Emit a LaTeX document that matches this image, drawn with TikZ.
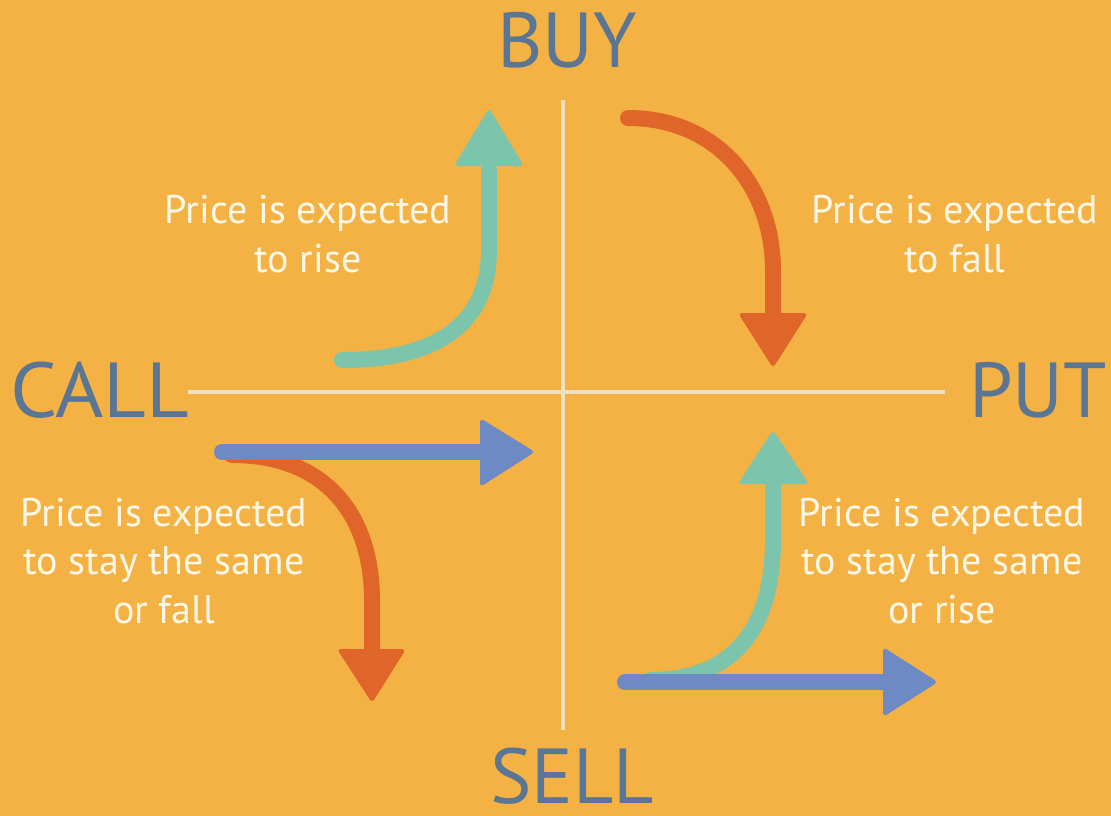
\documentclass[tikz,border=0pt]{standalone}
\usepackage{fontspec}
\setmainfont{PT Sans}
\definecolor{bgc}{HTML}{F3B243}
\definecolor{labc}{HTML}{5A7694}
\definecolor{tealc}{HTML}{7DC4AC}
\definecolor{orangec}{HTML}{E0652A}
\definecolor{bluec}{HTML}{6E8AC4}
\definecolor{txtc}{HTML}{FFF8E8}
\definecolor{axisc}{HTML}{EFE0C0}
\tikzset{
  bigl/.style={inner sep=0pt, text=labc, font=\fontsize{78}{80}\selectfont},
  desc/.style={inner sep=0pt, text=txtc, align=center, font=\fontsize{40}{48.5}\selectfont},
  axisline/.style={draw=axisc, line width=4pt},
  shaft/.style={line width=16pt, line cap=round},
  headtri/.style={rounded corners=4pt}
}
\begin{document}
\begin{tikzpicture}[x=1pt,y=-1pt]
\fill[bgc] (0,0) rectangle (1111,816);
\useasboundingbox (0,0) rectangle (1111,816);
% axes
\coordinate (vtop) at (563,100);
\coordinate (vbot) at (563,730);
\coordinate (hl) at (188,392);
\coordinate (hr) at (945,392);
\draw[axisline] (vtop) -- (vbot);
\draw[axisline] (hl) -- (hr);
% big labels
\node[bigl, anchor=base] (buy) at (567,67) {BUY};
\node[bigl, anchor=base west] (call) at (10,417) {\scalebox{1.06}[1]{CALL}};
\node[bigl, anchor=base east] (put) at (1107,417) {PUT};
\node[bigl, anchor=base] (sell) at (572,803) {SELL};
% descriptions (anchor at baseline of last line)
\node[desc, anchor=base] (tl) at (308,272) {Price is expected\\to rise};
\node[desc, anchor=base] (tr) at (955,272) {Price is expected\\to fall};
\node[desc, anchor=base] (bl) at (164,623) {Price is expected\\to stay the same\\or fall};
\node[desc, anchor=base] (br) at (942,623) {Price is expected\\to stay the same\\or rise};
% top-left teal arrow
\coordinate (a1s) at (342,360);
\coordinate (a1b) at (489,170);
\draw[shaft, tealc] (a1s) .. controls (435,360) and (489,325) .. (489,250) -- (a1b);
\fill[headtri, tealc] (489,108) -- (524,166) -- (454,166) -- cycle;
% top-right orange arrow
\coordinate (a2s) at (628,118);
\coordinate (a2b) at (773,318);
\draw[shaft, orangec] (a2s) .. controls (720,118) and (773,190) .. (773,270) -- (a2b);
\fill[headtri, orangec] (773,368) -- (738,313) -- (808,313) -- cycle;
% lower-left orange arrow (under blue)
\coordinate (a4s) at (232,455);
\coordinate (a4b) at (372,652);
\draw[shaft, orangec] (a4s) .. controls (330,455) and (372,520) .. (372,600) -- (a4b);
\fill[headtri, orangec] (372,703) -- (337,649) -- (406,649) -- cycle;
% lower-left blue arrow
\coordinate (a3s) at (222,452);
\coordinate (a3b) at (484,452);
\draw[shaft, bluec] (a3s) -- (a3b);
\fill[headtri, bluec] (535,452) -- (480,418) -- (480,487) -- cycle;
% lower-right teal arrow (under blue)
\coordinate (a5s) at (650,680);
\coordinate (a5b) at (773,484);
\draw[shaft, tealc] (a5s) .. controls (740,680) and (773,620) .. (773,540) -- (a5b);
\fill[headtri, tealc] (773,430) -- (809,484) -- (738,484) -- cycle;
% lower-right blue arrow
\coordinate (a6s) at (625,682);
\coordinate (a6b) at (886,682);
\draw[shaft, bluec] (a6s) -- (a6b);
\fill[headtri, bluec] (938,682) -- (883,647) -- (883,717) -- cycle;
\end{tikzpicture}
\end{document}
